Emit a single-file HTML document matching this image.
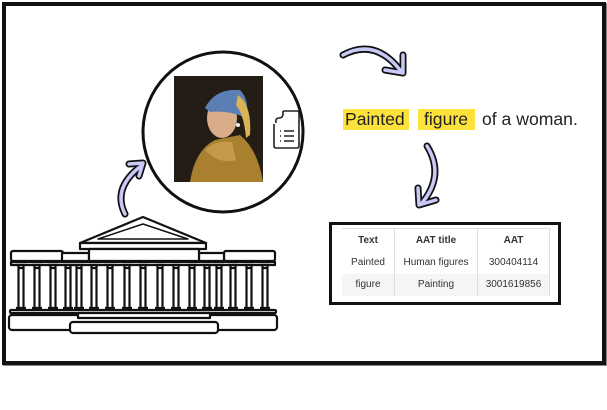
<!DOCTYPE html>
<html><head><style>
html,body{margin:0;padding:0;background:#fff;}
body{width:607px;height:410px;position:relative;overflow:hidden;font-family:"Liberation Sans",Arial,sans-serif;}
.frame{position:absolute;left:2px;top:2px;width:596px;height:355px;border:4px solid #111;box-shadow:1px 1px 0 #888;}
.hl{position:absolute;background:#fde23c;height:21px;top:109px;}
.t{position:absolute;font-size:17.6px;color:#222;top:109px;line-height:21px;}
table{border-collapse:collapse;font-size:10px;color:#333;}
td,th{text-align:center;height:22px;padding:0;}
</style></head><body>
<div class="frame"></div>

<svg width="607" height="410" style="position:absolute;left:0;top:0">
  <circle cx="223" cy="132" r="80" fill="#fff" stroke="#111" stroke-width="3"/>
  <rect x="174" y="76" width="89" height="106" fill="#231d15"/>
  <path d="M190 182 Q195 150 215 140 L240 135 Q258 150 263 182 Z" fill="#a8802f"/>
  <path d="M205 150 Q215 140 232 142 L236 160 Q220 165 205 150Z" fill="#c49a4a"/>
  <ellipse cx="222" cy="118" rx="15" ry="20" fill="#d9ad8a"/>
  <path d="M205 108 Q215 88 240 90 Q250 100 246 118 Q230 110 210 112 Z" fill="#5b7fb5"/>
  <path d="M238 95 Q252 105 250 135 L246 138 Q244 115 236 105Z" fill="#d9b356"/>
  <circle cx="238" cy="125" r="2" fill="#eee"/>
  <g fill="none" stroke="#222" stroke-width="1.6" stroke-linejoin="round">
    <path d="M283 111 H297 Q299 111 299 113 V146 Q299 148 297 148 H276 Q274 148 274 146 V124"/>
    <path d="M276 123 Q275 118 279 118 Q283 118 283 114 V111"/>
    <path d="M280 131 H281 M284 131 H294 M280 136 H281 M284 136 H294 M280 141 H281 M284 141 H294"/>
  </g>
  <g fill="none" stroke-linecap="round" stroke-linejoin="round">
    <path d="M125 214 Q112 188 141 166" stroke="#111" stroke-width="7"/>
    <path d="M129 164 L143 163 L139 176" stroke="#111" stroke-width="7"/>
    <path d="M125 214 Q112 188 141 166" stroke="#c9c9f7" stroke-width="3.5"/>
    <path d="M129 164 L143 163 L139 176" stroke="#c9c9f7" stroke-width="3.5"/>

    <path d="M343 55 Q375 38 400 70" stroke="#111" stroke-width="7"/>
    <path d="M403 55 L403 73 L385 70" stroke="#111" stroke-width="7"/>
    <path d="M343 55 Q375 38 400 70" stroke="#c9c9f7" stroke-width="3.5"/>
    <path d="M403 55 L403 73 L385 70" stroke="#c9c9f7" stroke-width="3.5"/>

    <path d="M427 146 Q445 175 422 203" stroke="#111" stroke-width="7"/>
    <path d="M418 188 L419 205 L436 200" stroke="#111" stroke-width="7"/>
    <path d="M427 146 Q445 175 422 203" stroke="#c9c9f7" stroke-width="3.5"/>
    <path d="M418 188 L419 205 L436 200" stroke="#c9c9f7" stroke-width="3.5"/>
  </g>
  <g fill="#fff" stroke="#111" stroke-width="2.2" stroke-linejoin="round">
    <path d="M80 243 L143 217 L206 243 Z"/>
    <path d="M98 239 L143 224 L188 239 Z" stroke-width="1.5"/>
    <rect x="80" y="243" width="126" height="6"/>
    <rect x="11" y="251" width="52" height="10" rx="2"/>
    <rect x="224" y="251" width="51" height="10" rx="2"/>
    <rect x="62" y="253" width="27" height="8"/>
    <rect x="199" y="253" width="25" height="8"/>
    <rect x="89" y="249" width="110" height="12"/>
    <rect x="11" y="262" width="264" height="3"/>
    <g id="cols">
      <path d="M16 265 H26 M18.5 265 V268 H23.5 V265 M18.5 268 V307 M23.5 268 V307 M16 308 H26"/>
    </g>
    <use href="#cols" x="16"/><use href="#cols" x="32"/><use href="#cols" x="47"/>
    <use href="#cols" x="58"/><use href="#cols" x="73"/><use href="#cols" x="89"/>
    <use href="#cols" x="106"/><use href="#cols" x="122"/><use href="#cols" x="139"/>
    <use href="#cols" x="155"/><use href="#cols" x="171"/><use href="#cols" x="186"/>
    <use href="#cols" x="198"/><use href="#cols" x="212"/><use href="#cols" x="228"/>
    <use href="#cols" x="244"/>
    <rect x="10" y="310" width="266" height="3" rx="1"/>
    <rect x="9" y="315" width="268" height="15" rx="3"/>
    <rect x="78" y="313" width="132" height="5"/>
    <rect x="70" y="322" width="148" height="11" rx="3"/>
  </g>
</svg>

<div class="hl" style="left:343px;width:66px"></div>
<div class="hl" style="left:418px;width:57px"></div>
<div class="t" style="left:345px">Painted</div>
<div class="t" style="left:424px">figure</div>
<div class="t" style="left:482px">of a woman.</div>

<div style="position:absolute;left:329px;top:222px;width:226px;height:77px;border:3px solid #111;background:#fff;">
  <table style="position:absolute;left:10px;top:3px;width:208px;">
    <tr style="height:23px"><th style="width:52px;border-right:1px solid #ddd;border-top:1px solid #ddd">Text</th><th style="width:82px;border-right:1px solid #ddd;border-top:1px solid #ddd">AAT title</th><th style="border-top:1px solid #ddd;border-right:1px solid #ddd">AAT</th></tr>
    <tr><td style="border-right:1px solid #ddd">Painted</td><td style="border-right:1px solid #ddd">Human figures</td><td style="border-right:1px solid #ddd">300404114</td></tr>
    <tr style="background:#f5f5f5"><td style="border-right:1px solid #ddd">figure</td><td style="border-right:1px solid #ddd">Painting</td><td style="border-right:1px solid #ddd">3001619856</td></tr>
  </table>
</div>
</body></html>
